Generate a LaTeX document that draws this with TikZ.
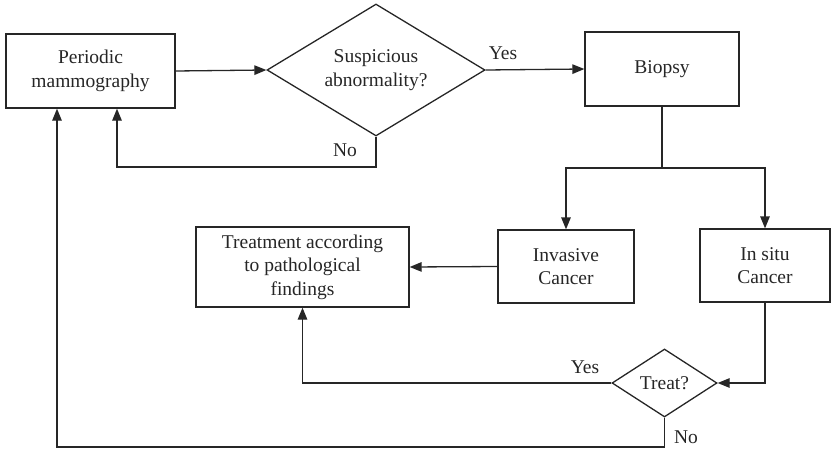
\documentclass[tikz,border=0pt]{standalone}
\usepackage{fontspec}
\setmainfont{Liberation Serif}
\usetikzlibrary{shapes.geometric,arrows.meta}
\tikzset{
  base/.style={draw=black!85, line width=1.3pt, inner sep=0pt, align=center,
               font=\fontsize{19.5}{23.5}\selectfont, text=black!85},
  procbox/.style={base, rectangle},
  decision/.style={base, diamond},
  flow/.style={draw=black!85, line width=1.3pt,
               -{Triangle[length=12pt,width=9.5pt]}},
  plain/.style={draw=black!85, line width=1.3pt},
  lbl/.style={font=\fontsize{19.5}{23.5}\selectfont, text=black!85, inner sep=0pt}
}
\begin{document}
\begin{tikzpicture}[x=1pt,y=-1pt]
\useasboundingbox (0,0) rectangle (832,452);

% process boxes
\node[procbox, minimum width=169pt, minimum height=74pt] (pm) at (90.5,71) {Periodic\\mammography};
\node[procbox, minimum width=154pt, minimum height=74pt] (bio) at (662,69) {Biopsy};
\node[procbox, minimum width=136pt, minimum height=73pt] (inv) at (566,266.5) {Invasive\\Cancer};
\node[procbox, minimum width=130pt, minimum height=73pt] (situ) at (765,265.5) {In situ\\Cancer};
\node[procbox, minimum width=213pt, minimum height=80pt] (tr) at (302.5,267) {Treatment according\\to pathological\\findings};

% decisions
\node[decision, aspect=1.65, minimum width=218pt, minimum height=132pt] (sus) at (376,70) {Suspicious\\abnormality?};
\node[decision, aspect=1.54, minimum width=105pt, minimum height=68pt] (tq) at (664.5,383) {Treat?};

% helper points for the routed connectors
\coordinate (noturn) at (117,167);
\coordinate (split) at (662,168);
\coordinate (loop) at (57,447);

% connectors
\draw[flow] (pm.east) -- (sus.west);
\draw[flow] (sus.east) -- (bio.west);
\draw[flow] (sus.south) |- (noturn) -- (noturn |- pm.south);
\draw[plain] (bio.south) -- (split);
\draw[flow] (split) -| (inv.north);
\draw[flow] (split) -| (situ.north);
\draw[flow] (inv.west) -- (tr.east);
\draw[flow] (situ.south) |- (tq.east);
\draw[flow] (tq.west) -| (tr.south);
\draw[flow] (tq.south) |- (loop) -- (loop |- pm.south);

% branch labels
\node[lbl] (yes1) at (503,53) {Yes};
\node[lbl] (no1) at (345,150) {No};
\node[lbl] (yes2) at (585,367) {Yes};
\node[lbl] (no2) at (686,437) {No};
\end{tikzpicture}
\end{document}
